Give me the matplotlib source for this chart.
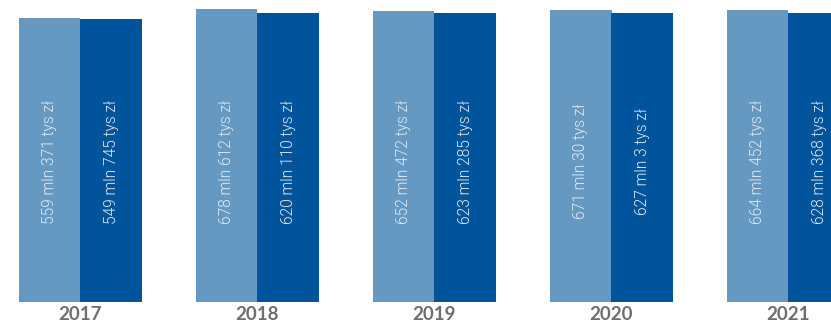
import matplotlib
matplotlib.use("Agg")
import matplotlib.pyplot as plt
import numpy as np

years = ["2017", "2018", "2019", "2020", "2021"]
# values in thousands of zł
planned = [559371, 678612, 652472, 671030, 664452]
actual = [549745, 620110, 623285, 627003, 628368]

LIGHT = "#6699C2"
DARK = "#00549B"


def label(v):
    return f"{v // 1000} mln {v % 1000} tys zł"


fig = plt.figure(figsize=(8.31, 3.24), dpi=100)
ax = fig.add_axes([0, 1 - 302 / 324, 1, 302 / 324])

x = np.arange(len(years))
w = 0.35
ax.bar(x - w / 2, np.array(planned) / 1000, width=w, color=LIGHT)
ax.bar(x + w / 2, np.array(actual) / 1000, width=w, color=DARK)

ax.set_yscale("log")
ax.set_ylim(1, 830)
ax.set_xlim(-80.5 / 177, (831 - 80.5) / 177)

for xi, p, a in zip(x, planned, actual):
    for xx, v in ((xi - w / 2, p), (xi + w / 2, a)):
        ax.text(xx, 0.465, label(v), transform=ax.get_xaxis_transform(),
                rotation=90, ha="center", va="center", color="#e4ebf2",
                fontsize=11.2, family="Roboto", fontweight=300)

ax.set_xticks(x)
ax.set_xticklabels(years, fontsize=13.5, fontweight="bold", color="#6e6e6e",
                   family="Lato")
ax.tick_params(axis="x", length=0, pad=3)
ax.set_yticks([])
ax.yaxis.set_minor_locator(matplotlib.ticker.NullLocator())
for s in ax.spines.values():
    s.set_visible(False)

fig.savefig("out.png", dpi=100)
plt.close(fig)
